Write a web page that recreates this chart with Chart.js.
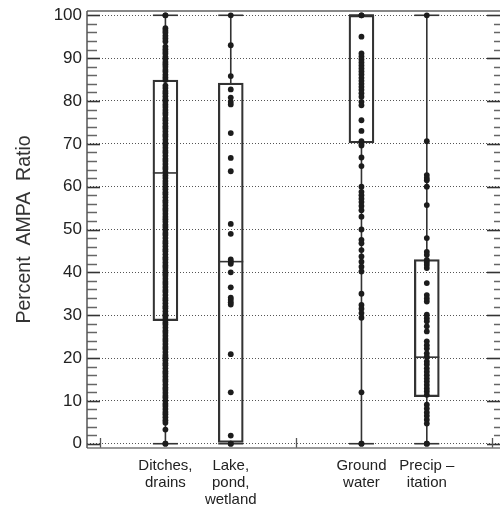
<!DOCTYPE html>
<html>
<head>
<meta charset="utf-8">
<script src="https://cdn.jsdelivr.net/npm/chart.js@4"></script>
<style>
html,body{margin:0;padding:0;background:#fff;}
canvas{display:block;}
</style>
</head>
<body>
<canvas id="c" width="500" height="510"></canvas>
<script>
// ---- data ----
const categoryLabels = [["Ditches,", "drains"], ["Lake,", "pond,", "wetland"], ["Ground", "water"], ["Precip –", "itation"]];
const categorySlots = [1, 2, 4, 5];
const xTickMarks = [0, 3, 6];
const yTickValues = [0, 10, 20, 30, 40, 50, 60, 70, 80, 90, 100];
const yMinorTicks = [2, 4, 6, 8, 12, 14, 16, 18, 22, 24, 26, 28, 32, 34, 36, 38, 42, 44, 46, 48, 52, 54, 56, 58, 62, 64, 66, 68, 72, 74, 76, 78, 82, 84, 86, 88, 92, 94, 96, 98];

const ditchesDrains = [100, 100, 97.0, 96.4, 95.9, 95.2, 94.6, 93.9, 92.7, 92.1, 91.5, 91.0, 90.3, 89.8, 89.1, 88.6, 88.0, 87.3, 86.8, 86.1, 85.5, 84.9,
  83.6, 83.0, 82.3, 81.8, 81.1, 80.4, 79.9, 79.2, 78.6, 77.9, 77.3, 76.8, 76.0, 75.5, 74.8, 74.1, 73.6, 72.9, 72.2, 71.7, 71.0, 70.3, 69.8, 69.1,
  68.4, 67.9, 67.2, 66.5, 66.0, 65.3, 64.6, 64.1, 63.4, 62.6, 62.0, 61.3, 60.7, 60.0, 59.4, 58.7, 58.2, 57.5, 56.8, 56.3, 55.6, 54.9, 54.4, 53.7,
  53.0, 52.4, 51.8, 51.1, 50.6, 49.9, 49.2, 48.7, 48.0, 47.3, 46.8, 46.1, 45.4, 44.9, 44.2, 43.5, 43.0, 42.3, 41.6, 41.1, 40.4, 39.7, 39.2, 38.5,
  37.8, 37.3, 36.6, 35.9, 35.4, 34.7, 34.0, 33.5, 32.8, 32.1, 31.6, 30.9, 30.2, 29.7, 29.0, 28.3, 27.8, 27.1, 26.4, 25.9, 25.2, 24.5, 24.0, 23.3,
  22.6, 22.1, 21.4, 20.7, 20.2, 19.5, 18.8, 18.3, 17.6, 16.9, 16.4, 15.7, 15.0, 14.5, 13.8, 13.1, 12.6, 11.9, 11.2, 10.7, 10.0, 9.3, 8.8, 8.1,
  7.4, 6.9, 6.2, 5.5, 4.9, 3.3, 0, 0];
const lakePondWetland = [100, 93.0, 85.8, 82.7, 80.8, 79.8, 79.2, 72.5, 66.7, 63.6, 51.3, 49.0, 43.0, 42.5, 42.0, 40.0, 36.5, 34.1, 33.6, 33.0, 32.5, 20.9, 12.0, 1.9, 0, 0];
const groundWater = [100, 100, 95.0, 91.1, 90.4, 89.7, 89.0, 88.3, 87.6, 86.9, 86.2, 85.4, 84.7, 84.0, 83.3, 82.6, 81.8, 81.0, 79.8, 79.0, 75.5, 73.0, 70.6, 70.0, 69.6,
  66.8, 64.8, 60.0, 58.8, 58.0, 57.2, 56.4, 55.5, 54.5, 53.0, 50.0, 47.6, 46.8, 45.2, 43.7, 42.5, 41.3, 40.2, 35.0, 32.4, 31.5, 30.5, 29.4, 12.0, 0, 0];
const precipitation = [100, 70.6, 62.7, 62.0, 61.5, 60.0, 55.7, 48.0, 44.8, 44.1, 42.9, 42.3, 41.7, 41.0, 37.5, 34.7, 33.9, 33.2, 30.1, 29.3, 28.6, 27.4, 26.2,
  23.9, 23.0, 22.2, 21.1, 20.3, 19.2, 18.5, 17.6, 16.8, 16.0, 15.2, 14.5, 13.7, 12.9, 12.2, 11.4, 9.1, 8.2, 7.3, 6.5, 5.6, 4.7, 0, 0];

const boxQ1 = [28.7, 0.3, 70.2, 11.0];
const boxMedian = [63.2, 42.5, 100, 20.2];
const boxQ3 = [84.9, 84.2, 100, 43.0];
const whiskerLow = [0, 0, 0, 0];
const whiskerHigh = [100, 100, 100, 100];

// ---- build datasets ----
const seriesValues = [ditchesDrains, lakePondWetland, groundWater, precipitation];
const INK = '#333';
const boxData = categorySlots.map((x, i) => ({x: x, y: [boxQ1[i], boxQ3[i]]}));
const whiskerPts = [];
categorySlots.forEach((x, i) => {
  whiskerPts.push({x: x, y: boxQ3[i]}, {x: x, y: whiskerHigh[i]}, {x: x, y: null});
  whiskerPts.push({x: x, y: whiskerLow[i]}, {x: x, y: boxQ1[i]}, {x: x, y: null});
});
const hLinePts = [];
categorySlots.forEach((x, i) => {
  hLinePts.push({x: x, y: whiskerHigh[i]}, {x: x, y: whiskerLow[i]}, {x: x, y: boxMedian[i]});
});

const datasets = [
  {type: 'bar', data: boxData, backgroundColor: 'rgba(0,0,0,0)', borderColor: INK, borderWidth: 1.6,
   borderSkipped: false, barThickness: 25, order: 4},
  {type: 'scatter', data: whiskerPts, showLine: true, spanGaps: false, borderColor: INK, borderWidth: 1.6,
   pointRadius: 0, order: 3, clip: false},
  {type: 'scatter', data: hLinePts, pointStyle: 'line', pointRadius: 12.5, pointBorderWidth: 1.6,
   pointBorderColor: INK, borderColor: INK, order: 2, clip: false}
];
seriesValues.forEach((vals, i) => {
  datasets.push({type: 'scatter', data: vals.map(v => ({x: categorySlots[i], y: v})),
    pointRadius: 2.9, pointBackgroundColor: '#1c1c1c', pointBorderWidth: 0, order: 1, clip: false});
});

// ---- frame & inward ticks ----
const framePlugin = {
  id: 'frame',
  beforeDatasetsDraw(chart) {
    const ctx = chart.ctx, a = chart.chartArea;
    const ys = chart.scales.y, xs = chart.scales.x;
    ctx.save();
    ctx.lineCap = 'butt';
    // minor ticks
    ctx.strokeStyle = '#666'; ctx.lineWidth = 1.5;
    yMinorTicks.forEach(v => {
      const p = Math.round(ys.getPixelForValue(v)) + 0.5;
      ctx.beginPath(); ctx.moveTo(a.left, p); ctx.lineTo(a.left + 10, p); ctx.stroke();
      ctx.beginPath(); ctx.moveTo(a.right - 6, p); ctx.lineTo(a.right, p); ctx.stroke();
    });
    // major ticks
    ctx.strokeStyle = '#333'; ctx.lineWidth = 1.6;
    yTickValues.forEach(v => {
      const p = Math.round(ys.getPixelForValue(v)) + 0.5;
      ctx.beginPath(); ctx.moveTo(a.left, p); ctx.lineTo(a.left + 13, p); ctx.stroke();
      ctx.beginPath(); ctx.moveTo(a.right - 13, p); ctx.lineTo(a.right, p); ctx.stroke();
    });
    // x ticks
    ctx.strokeStyle = '#555'; ctx.lineWidth = 1.3;
    xTickMarks.forEach(v => {
      const p = Math.round(xs.getPixelForValue(v)) + 0.5;
      ctx.beginPath(); ctx.moveTo(p, a.bottom); ctx.lineTo(p, a.bottom - 10); ctx.stroke();
    });
    // frame
    ctx.strokeStyle = '#888'; ctx.lineWidth = 2;
    ctx.beginPath(); ctx.moveTo(a.left, a.top); ctx.lineTo(a.right, a.top); ctx.stroke();
    ctx.strokeStyle = '#777'; ctx.lineWidth = 1.5;
    ctx.beginPath(); ctx.moveTo(a.left, a.bottom); ctx.lineTo(a.right, a.bottom); ctx.stroke();
    ctx.strokeStyle = '#555'; ctx.lineWidth = 1.5;
    ctx.beginPath(); ctx.moveTo(a.left, a.top); ctx.lineTo(a.left, a.bottom); ctx.stroke();
    ctx.restore();
  }
};

Chart.defaults.font.family = "'Liberation Sans', Arial, Helvetica, sans-serif";

new Chart(document.getElementById('c'), {
  type: 'scatter',
  data: {datasets: datasets},
  options: {
    responsive: false,
    devicePixelRatio: 1,
    animation: false,
    layout: {autoPadding: false, padding: {top: 11, right: 0, bottom: 0, left: 0}},
    plugins: {legend: {display: false}, tooltip: {enabled: false}},
    scales: {
      x: {
        type: 'linear', min: -0.2, max: 6.12, offset: false,
        afterBuildTicks: s => { s.ticks = categorySlots.map(v => ({value: v})); },
        afterFit: s => { s.height = 62; s.paddingLeft = 0; s.paddingRight = 0; },
        grid: {display: false, drawTicks: false},
        border: {display: false},
        ticks: {
          autoSkip: false, maxRotation: 0, minRotation: 0, padding: 9,
          color: '#222', font: {size: 15, lineHeight: 1.13},
          callback: (v) => categoryLabels[categorySlots.indexOf(v)]
        }
      },
      y: {
        type: 'linear', min: -1, max: 101,
        afterBuildTicks: s => { s.ticks = yTickValues.map(v => ({value: v})); },
        afterFit: s => { s.width = 87; s.paddingTop = 0; s.paddingBottom = 0; },
        grid: {drawTicks: false, color: '#555', lineWidth: 1},
        border: {display: false, dash: [1, 2]},
        ticks: {color: '#222', font: {size: 17}, padding: 5},
        title: {display: true, text: 'Percent  AMPA  Ratio', color: '#333', font: {size: 19.5},
                padding: {top: 13, bottom: 0}}
      }
    }
  },
  plugins: [framePlugin]
});
</script>
</body>
</html>
